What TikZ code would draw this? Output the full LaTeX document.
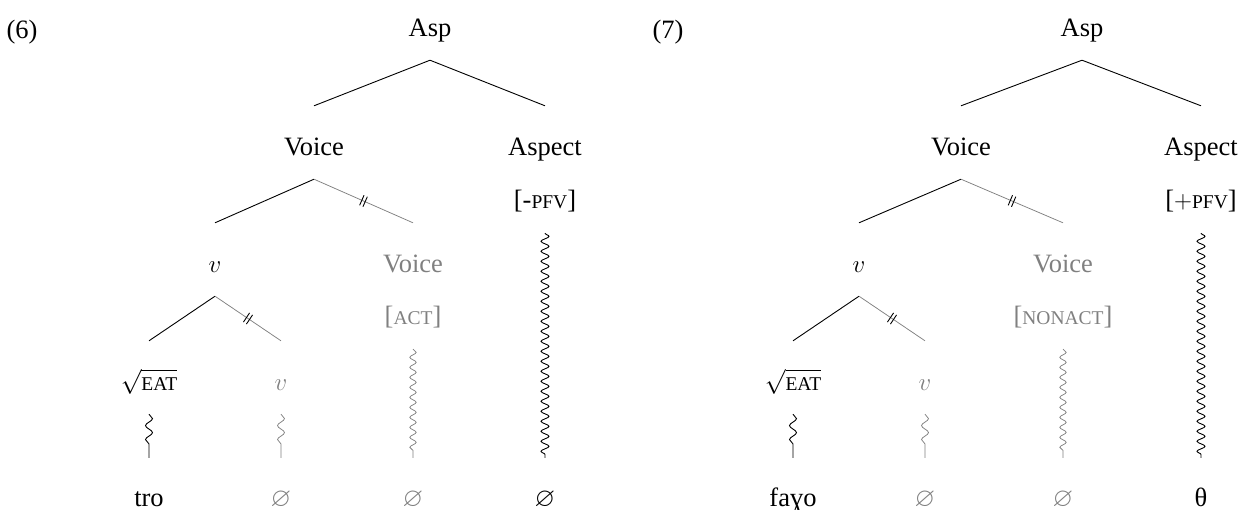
\documentclass[tikz,border=0pt]{standalone}
\usepackage{amssymb}
\usepackage{fontspec}
\setmainfont{Liberation Serif}
\usetikzlibrary{decorations.pathmorphing,decorations.markings}

\definecolor{grey}{gray}{0.5}
% small capitals set as reduced capitals
\newcommand\fsc[1]{{\fontsize{19.5}{22}\selectfont #1}}

\begin{document}
\begin{tikzpicture}[x=1pt,y=-1pt,
  every node/.style={font=\fontsize{26.5}{31}\selectfont},
  treelab/.style={anchor=base, inner sep=0pt, text height=49pt, text depth=24pt},
  featlab/.style={anchor=base, inner sep=0pt, text depth=25pt},
  wordlab/.style={anchor=base, inner sep=0pt, text height=48pt},
  exlab/.style={anchor=base, inner sep=0pt},
  branch/.style={draw=black, line width=0.9pt},
  cutbranch/.style={draw=grey, line width=0.75pt, postaction={decorate},
    decoration={markings, mark=at position 0.5 with {
      \draw[black, line width=0.9pt] (-1.8pt,-5.5pt) -- (-1.8pt,5.5pt)
                                     (1.8pt,-5.5pt) -- (1.8pt,5.5pt);}}},
  shortsq/.style={decorate, line width=0.9pt,
    decoration={snake, segment length=14pt, amplitude=3.5pt, post length=7pt}},
  longsq/.style={decorate, line width=0.9pt,
    decoration={snake, segment length=10pt, amplitude=4pt, post length=3pt}},
  faint/.style={draw=grey, line width=0.75pt}
]
\useasboundingbox (0,0) rectangle (1241,509);

% ---------- (6) ----------
\node[exlab] (ex6) at (22,38) {(6)};
\node[treelab] (Lasp) at (430,36) {Asp};
\node[treelab] (Lvoice) at (314,155) {Voice};
\node[treelab] (Laspect) at (545,155) {Aspect};
\node[featlab] (Lpfv) at (545,208) {[-\fsc{PFV}]};
\node[treelab] (Lv) at (215,272) {$v$};
\node[treelab, text=grey] (Lvoicegr) at (413,272) {Voice};
\node[featlab, text=grey] (Lact) at (413,324) {[\fsc{ACT}]};
\node[treelab] (Lroot) at (149,390) {$\sqrt{\hbox{\fsc{EAT}}}$};
\node[treelab, text=grey] (Lvgr) at (281,390) {$v$};
\node[wordlab] (Lw1) at (149,506) {tro};
\node[wordlab, text=grey] (Lw2) at (281,506) {$\varnothing$};
\node[wordlab, text=grey] (Lw3) at (413,506) {$\varnothing$};
\node[wordlab] (Lw4) at (545,506) {$\varnothing$};

\draw[branch] (Lasp.south) -- (Lvoice.north);
\draw[branch] (Lasp.south) -- (Laspect.north);
\draw[branch] (Lvoice.south) -- (Lv.north);
\draw[cutbranch] (Lvoice.south) -- (Lvoicegr.north);
\draw[branch] (Lv.south) -- (Lroot.north);
\draw[cutbranch] (Lv.south) -- (Lvgr.north);
\draw[shortsq] (Lroot.south) -- (Lw1.north);
\draw[shortsq, faint] (Lvgr.south) -- (Lw2.north);
\draw[longsq, faint, decoration={amplitude=3.2pt}] (Lact.south) -- (Lw3.north);
\draw[longsq] (Lpfv.south) -- (Lw4.north);

% ---------- (7) ----------
\node[exlab] (ex7) at (668,38) {(7)};
\node[treelab] (Rasp) at (1082,36) {Asp};
\node[treelab] (Rvoice) at (961,155) {Voice};
\node[treelab] (Raspect) at (1201,155) {Aspect};
\node[featlab] (Rpfv) at (1201,208) {[$+$\fsc{PFV}]};
\node[treelab] (Rv) at (859,272) {$v$};
\node[treelab, text=grey] (Rvoicegr) at (1063,272) {Voice};
\node[featlab, text=grey] (Rnonact) at (1063,324) {[\fsc{NONACT}]};
\node[treelab] (Rroot) at (793,390) {$\sqrt{\hbox{\fsc{EAT}}}$};
\node[treelab, text=grey] (Rvgr) at (925,390) {$v$};
\node[wordlab] (Rw1) at (793,506) {faɣo};
\node[wordlab, text=grey] (Rw2) at (925,506) {$\varnothing$};
\node[wordlab, text=grey] (Rw3) at (1063,506) {$\varnothing$};
\node[wordlab] (Rw4) at (1201,506) {θ};

\draw[branch] (Rasp.south) -- (Rvoice.north);
\draw[branch] (Rasp.south) -- (Raspect.north);
\draw[branch] (Rvoice.south) -- (Rv.north);
\draw[cutbranch] (Rvoice.south) -- (Rvoicegr.north);
\draw[branch] (Rv.south) -- (Rroot.north);
\draw[cutbranch] (Rv.south) -- (Rvgr.north);
\draw[shortsq] (Rroot.south) -- (Rw1.north);
\draw[shortsq, faint] (Rvgr.south) -- (Rw2.north);
\draw[longsq, faint, decoration={amplitude=3.2pt}] (Rnonact.south) -- (Rw3.north);
\draw[longsq] (Rpfv.south) -- (Rw4.north);
\end{tikzpicture}
\end{document}
